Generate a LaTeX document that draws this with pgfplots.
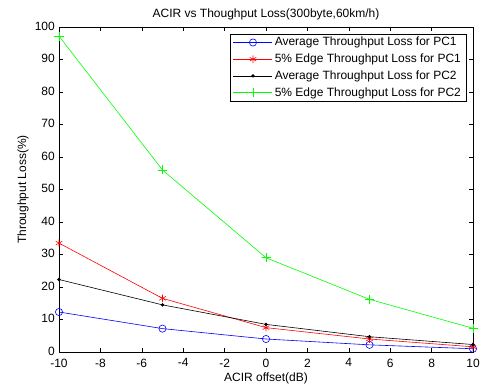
\documentclass[border=0pt]{standalone}
\usepackage{pgfplots}
\pgfplotsset{compat=1.18}
\usepackage{fontspec}
\setmainfont{Liberation Sans}
\begin{document}
\fontsize{12bp}{14bp}\selectfont
\begin{tikzpicture}
\begin{axis}[
  name=ax,
  scale only axis,
  width=414bp, height=325bp,
  xmin=-10, xmax=10, ymin=0, ymax=100,
  xtick={-10,-8,...,10}, ytick={0,10,...,100},
  tick align=inside,
  major tick length=4bp,
  tick style={black, line width=0.5pt},
  axis line style={black, line width=0.6pt},
  /pgf/number format/assume math mode=true,
  ticklabel style={font=\fontsize{12bp}{14bp}\selectfont},
  xticklabel style={yshift=-2.5bp},
  yticklabel style={yshift=1bp},
  title={ACIR vs Thoughput Loss(300byte,60km/h)},
  title style={font=\fontsize{12bp}{14bp}\selectfont, yshift=-3bp},
  xlabel={ACIR offset(dB)},
  ylabel={Throughput Loss(\%)},
  xlabel style={font=\fontsize{12bp}{14bp}\selectfont, yshift=3bp},
  ylabel style={font=\fontsize{12bp}{14bp}\selectfont, yshift=-2bp},
  legend style={at={(rel axis cs:0.9835,0.9785)}, anchor=north east, font=\fontsize{12bp}{14bp}\selectfont, draw=black, line width=0.6pt, row sep=2.2bp, inner xsep=3bp, inner ysep=1bp},
  legend cell align=left,
  legend image code/.code={\draw[#1] (0bp,0bp) -- (39bp,0bp); \draw[#1, mark repeat=2, mark phase=2] plot coordinates {(0bp,0bp) (19.5bp,0bp) (39bp,0bp)};},
]
\addplot[blue, line width=0.6bp, mark=o, mark size=3.6bp, mark options={solid}] coordinates {(-10,12.3) (-5,7.2) (0,4.0) (5,2.2) (10,1.0)};
\addlegendentry{Average Throughput Loss for PC1}
\addplot[red, line width=0.6bp, mark=asterisk, mark size=3.8bp] coordinates {(-10,33.5) (-5,16.5) (0,7.5) (5,4.0) (10,1.6)};
\addlegendentry{5\% Edge Throughput Loss for PC1}
\addplot[black, line width=0.6bp, mark=*, mark size=1.4bp] coordinates {(-10,22.3) (-5,14.5) (0,8.5) (5,4.7) (10,2.3)};
\addlegendentry{Average Throughput Loss for PC2}
\addplot[green, line width=0.6bp, mark=+, mark size=4.5bp] coordinates {(-10,97.2) (-5,56.0) (0,29.0) (5,16.2) (10,7.3)};
\addlegendentry{5\% Edge Throughput Loss for PC2}
\end{axis}
\pgfresetboundingbox
\path ([shift={(-59bp,-34bp)}]ax.south west) rectangle ([shift={(10bp,27bp)}]ax.north east);
\end{tikzpicture}
\end{document}
